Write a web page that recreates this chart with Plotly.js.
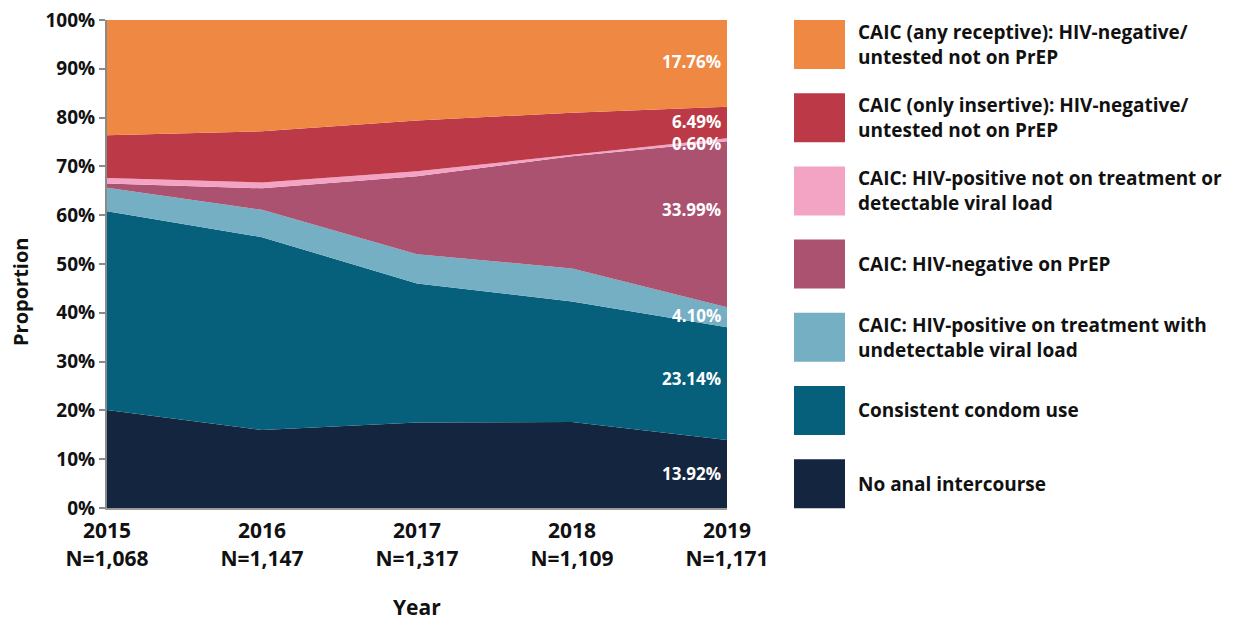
<!DOCTYPE html>
<html>
<head>
<meta charset="utf-8">
<script src="https://cdn.plot.ly/plotly-3.0.1.min.js"></script>
<style>
  html, body { margin: 0; padding: 0; background: #ffffff; }
  #chart { width: 1237px; height: 621px; }
</style>
</head>
<body>
<div id="chart"></div>
<script>
// ---- data ----
const years = [2015, 2016, 2017, 2018, 2019];
const sampleSizes = ['N=1,068', 'N=1,147', 'N=1,317', 'N=1,109', 'N=1,171'];

const noAnal        = [20.1, 16.0, 17.5, 17.6, 13.92];
const condom        = [40.7, 39.5, 28.5, 24.7, 23.14];
const undetectable  = [4.8, 5.6, 6.0, 6.8, 4.10];
const negOnPrep     = [0.9, 4.4, 16.0, 23.0, 33.99];
const posDetectable = [1.1, 1.2, 1.0, 0.3, 0.60];
const onlyInsertive = [8.8, 10.5, 10.4, 8.6, 6.49];
const anyReceptive  = [23.6, 22.8, 20.6, 19.0, 17.76];

const seriesNames = [
  'No anal intercourse',
  'Consistent condom use',
  'CAIC: HIV-positive on treatment with<br>undetectable viral load',
  'CAIC: HIV-negative on PrEP',
  'CAIC: HIV-positive not on treatment or<br>detectable viral load',
  'CAIC (only insertive): HIV-negative/<br>untested not on PrEP',
  'CAIC (any receptive): HIV-negative/<br>untested not on PrEP'
];
const seriesValues = [noAnal, condom, undetectable, negOnPrep, posDetectable, onlyInsertive, anyReceptive];
const seriesColors = ['#13253F', '#06607C', '#74AFC3', '#AC5271', '#F3A4C5', '#BC3A47', '#EE8843'];

// ---- traces ----
const traces = seriesValues.map((vals, i) => ({
  type: 'scatter',
  mode: 'lines',
  x: years,
  y: vals,
  stackgroup: 'one',
  name: seriesNames[i].replace('<br>', ' '),
  line: { width: 0, color: seriesColors[i] },
  fillcolor: seriesColors[i],
  hoverinfo: 'skip',
  showlegend: false
}));

const FONT = '"Open Sans", "DejaVu Sans", sans-serif';
const annotations = [];
const shapes = [];

// value labels at last year, centred on each band
const labelNudge = [0.2, 1.1, 0.4, 3.0, -0.7, 0.3, 0.4];
let cum = 0;
seriesValues.forEach((vals, i) => {
  const v = vals[vals.length - 1];
  const mid = cum + v / 2;
  cum += v;
  annotations.push({
    x: years[years.length - 1], y: mid + labelNudge[i],
    xref: 'x', yref: 'y',
    text: v.toFixed(2) + '%',
    showarrow: false,
    xanchor: 'right', yanchor: 'middle',
    xshift: -4,
    font: { family: FONT, size: 17, color: '#ffffff', weight: 700 }
  });
});

// custom legend (top to bottom: reverse stack order)
const plotLeft = 107, plotW = 620, plotTop = 20, plotH = 488;
const px2x = p => (p - plotLeft) / plotW;
const px2y = p => (plotTop + plotH - p) / plotH;
for (let k = 0; k < seriesNames.length; k++) {
  const idx = seriesNames.length - 1 - k;
  const top = 20 + k * 73.2;
  shapes.push({
    type: 'rect', xref: 'paper', yref: 'paper',
    x0: px2x(794), x1: px2x(845),
    y0: px2y(top + 49), y1: px2y(top),
    fillcolor: seriesColors[idx], line: { width: 0 }
  });
  const lines = seriesNames[idx].split('<br>');
  const centre = top + 24.5;
  lines.forEach((ln, j) => {
    const cy = centre + (j - (lines.length - 1) / 2) * 25;
    annotations.push({
      x: px2x(856), y: px2y(cy), xref: 'paper', yref: 'paper',
      text: ln, showarrow: false,
      xanchor: 'left', yanchor: 'middle',
      font: { family: FONT, size: 19, color: '#111111', weight: 700 }
    });
  });
}

// axis titles (placed like the reference)
annotations.push({
  x: px2x(20), y: px2y(292), xref: 'paper', yref: 'paper',
  text: 'Proportion', textangle: -90, showarrow: false,
  xanchor: 'center', yanchor: 'middle',
  font: { family: FONT, size: 20, color: '#111111', weight: 700 }
});
annotations.push({
  x: 0.5, y: px2y(607), xref: 'paper', yref: 'paper',
  text: 'Year', showarrow: false,
  xanchor: 'center', yanchor: 'middle',
  font: { family: FONT, size: 21, color: '#111111', weight: 700 }
});

const layout = {
  width: 1237, height: 621,
  margin: { l: 107, r: 510, t: 20, b: 113 },
  paper_bgcolor: '#ffffff',
  plot_bgcolor: '#ffffff',
  showlegend: false,
  font: { family: FONT, color: '#111111' },
  xaxis: {
    range: [2015, 2019],
    tickvals: years,
    ticktext: years.map((y, i) => y + '<br>' + sampleSizes[i]),
    showgrid: false,
    zeroline: false,
    showline: true,
    linecolor: '#9a9a9a',
    linewidth: 2,
    ticks: 'outside',
    ticklen: 3,
    tickcolor: 'rgba(0,0,0,0)',
    tickfont: { family: FONT, size: 21, color: '#111111', weight: 700 }
  },
  yaxis: {
    range: [0, 100],
    tickvals: [0, 10, 20, 30, 40, 50, 60, 70, 80, 90, 100],
    ticktext: ['0%', '10%', '20%', '30%', '40%', '50%', '60%', '70%', '80%', '90%', '100%'],
    showgrid: false,
    zeroline: false,
    showline: true,
    linecolor: '#8a8a8a',
    linewidth: 2,
    ticks: 'outside',
    ticklen: 6,
    tickwidth: 2,
    tickcolor: '#8a8a8a',
    tickfont: { family: FONT, size: 19, color: '#111111', weight: 700 }
  },
  annotations: annotations,
  shapes: shapes
};

Plotly.newPlot('chart', traces, layout, { displayModeBar: false, staticPlot: true });
</script>
</body>
</html>
